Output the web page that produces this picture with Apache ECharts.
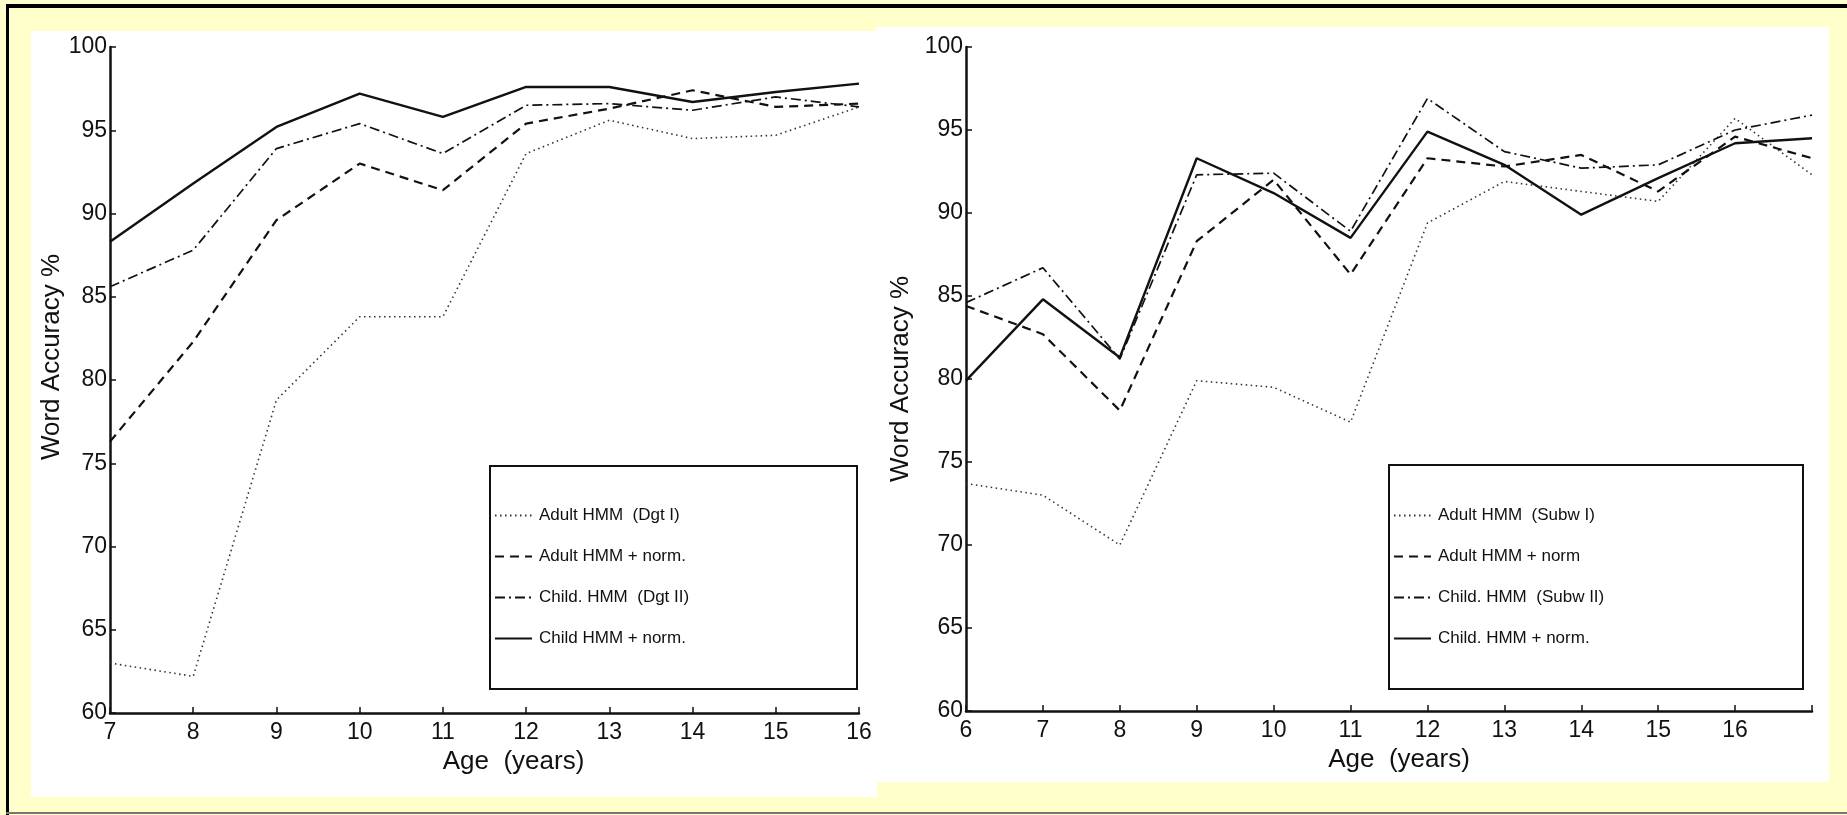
<!DOCTYPE html>
<html>
<head>
<meta charset="utf-8">
<script src="https://cdn.jsdelivr.net/npm/echarts@6/dist/echarts.min.js"></script>
<style>
  html, body { margin: 0; padding: 0; background: #ffffcc; }
  #main { width: 1847px; height: 815px; }
</style>
</head>
<body>
<div id="main"></div>
<script>
// left panel: digit recognition, ages 7..16
const leftAges = [7, 8, 9, 10, 11, 12, 13, 14, 15, 16];
const leftAdult = [63.0, 62.2, 78.8, 83.8, 83.8, 93.6, 95.6, 94.5, 94.7, 96.4];
const leftAdultNorm = [76.3, 82.3, 89.6, 93.0, 91.4, 95.4, 96.3, 97.4, 96.4, 96.6];
const leftChild = [85.6, 87.8, 93.9, 95.4, 93.6, 96.5, 96.6, 96.2, 97.0, 96.4];
const leftChildNorm = [88.3, 91.8, 95.2, 97.2, 95.8, 97.6, 97.6, 96.7, 97.3, 97.8];
const leftNames = ['Adult HMM  (Dgt I)', 'Adult HMM + norm.', 'Child. HMM  (Dgt II)', 'Child HMM + norm.'];

// right panel: subword recognition, ages 6..17
const rightAges = [6, 7, 8, 9, 10, 11, 12, 13, 14, 15, 16, 17];
const rightAdult = [73.7, 73.0, 70.0, 79.9, 79.5, 77.4, 89.4, 91.9, 91.3, 90.7, 95.7, 92.3];
const rightAdultNorm = [84.4, 82.7, 78.1, 88.3, 92.0, 86.3, 93.3, 92.8, 93.5, 91.3, 94.6, 93.3];
const rightChild = [84.6, 86.7, 81.2, 92.3, 92.4, 88.9, 96.9, 93.7, 92.7, 92.9, 95.0, 95.9];
const rightChildNorm = [79.9, 84.8, 81.3, 93.3, 91.2, 88.5, 94.9, 92.9, 89.9, 92.1, 94.2, 94.5];
const rightNames = ['Adult HMM  (Subw I)', 'Adult HMM + norm', 'Child. HMM  (Subw II)', 'Child. HMM + norm.'];

const myChart = echarts.init(document.getElementById('main'));
const font = 'Liberation Sans, Arial, sans-serif';
const ink = '#111';

const lineStyles = [
  { color: '#333', width: 1.6, type: [1.5, 3.5] },
  { color: ink, width: 2.2, type: [9, 6] },
  { color: ink, width: 1.7, type: [10, 4, 2, 4] },
  { color: ink, width: 2.4, type: 'solid' }
];

function pairs(xs, ys) {
  return xs.map(function (x, i) { return [x, ys[i]]; });
}

function makeSeries(idx, names, xs, lists) {
  return lists.map(function (ys, k) {
    return {
      name: names[k],
      type: 'line',
      xAxisIndex: idx,
      yAxisIndex: idx,
      symbol: 'none',
      lineStyle: lineStyles[k],
      itemStyle: { color: lineStyles[k].color },
      data: pairs(xs, ys)
    };
  });
}

function xAxis(idx, min, max, hideLast, pad) {
  return {
    type: 'value', gridIndex: idx, min: min, max: max, interval: 1,
    name: 'Age  (years)', nameLocation: 'middle', nameGap: 31,
    nameTextStyle: { fontFamily: font, fontSize: 26, color: ink, padding: pad },
    axisLine: { lineStyle: { color: ink, width: 2.5 } },
    axisTick: { inside: true, length: 6, lineStyle: { color: ink, width: 1.5 } },
    axisLabel: {
      fontFamily: font, fontSize: 23, color: ink, margin: 8,
      formatter: function (v) { return hideLast && v === max ? '' : v; }
    },
    splitLine: { show: false }
  };
}

function yAxis(idx, gap, pad) {
  return {
    type: 'value', gridIndex: idx, min: 60, max: 100, interval: 5,
    name: 'Word Accuracy %', nameLocation: 'middle', nameGap: gap,
    nameTextStyle: { fontFamily: font, fontSize: 26, color: ink, padding: pad },
    axisLine: { show: true, lineStyle: { color: ink, width: 2.5 } },
    axisTick: { show: true, inside: true, length: 6, lineStyle: { color: ink, width: 1.5 } },
    axisLabel: { fontFamily: font, fontSize: 23, color: ink, margin: 3 },
    splitLine: { show: false }
  };
}

function legend(names, left, top) {
  return {
    data: names, orient: 'vertical', left: left, top: top, padding: 0,
    itemWidth: 37, itemHeight: 14, itemGap: 24,
    itemStyle: { opacity: 0 },
    textStyle: { fontFamily: font, fontSize: 17, color: ink, padding: [0, 0, 0, 2] },
    selectedMode: false
  };
}

const option = {
  backgroundColor: '#ffffcc',
  animation: false,
  graphic: [
    { type: 'rect', shape: { x: 31, y: 31, width: 846, height: 766 }, style: { fill: '#fff' }, z: -10 },
    { type: 'rect', shape: { x: 876, y: 27, width: 953, height: 755 }, style: { fill: '#fff' }, z: -10 },
    { type: 'rect', shape: { x: 490, y: 466, width: 367, height: 223 }, style: { fill: 'none', stroke: ink, lineWidth: 2 }, z: 5 },
    { type: 'rect', shape: { x: 1389, y: 465, width: 414, height: 224 }, style: { fill: 'none', stroke: ink, lineWidth: 2 }, z: 5 },
    { type: 'line', shape: { x1: 6, y1: 6, x2: 1847, y2: 6 }, style: { stroke: '#000', lineWidth: 4 } },
    { type: 'line', shape: { x1: 7.5, y1: 4, x2: 7.5, y2: 815 }, style: { stroke: '#000', lineWidth: 3 } },
    { type: 'line', shape: { x1: 6, y1: 813, x2: 1847, y2: 813 }, style: { stroke: '#777', lineWidth: 2 } }
  ],
  grid: [
    { left: 110, top: 47, width: 749, height: 666 },
    { left: 966, top: 47, width: 846, height: 664 }
  ],
  xAxis: [xAxis(0, 7, 16, false, [0, 0, 0, 58]), xAxis(1, 6, 17, true, [0, 0, 0, 20])],
  yAxis: [yAxis(0, 43, [0, 0, 0, 46]), yAxis(1, 52, [0, 0, 0, 0])],
  legend: [legend(leftNames, 494, 507), legend(rightNames, 1393, 507)],
  series: makeSeries(0, leftNames, leftAges, [leftAdult, leftAdultNorm, leftChild, leftChildNorm])
    .concat(makeSeries(1, rightNames, rightAges, [rightAdult, rightAdultNorm, rightChild, rightChildNorm]))
};

myChart.setOption(option);
</script>
</body>
</html>
